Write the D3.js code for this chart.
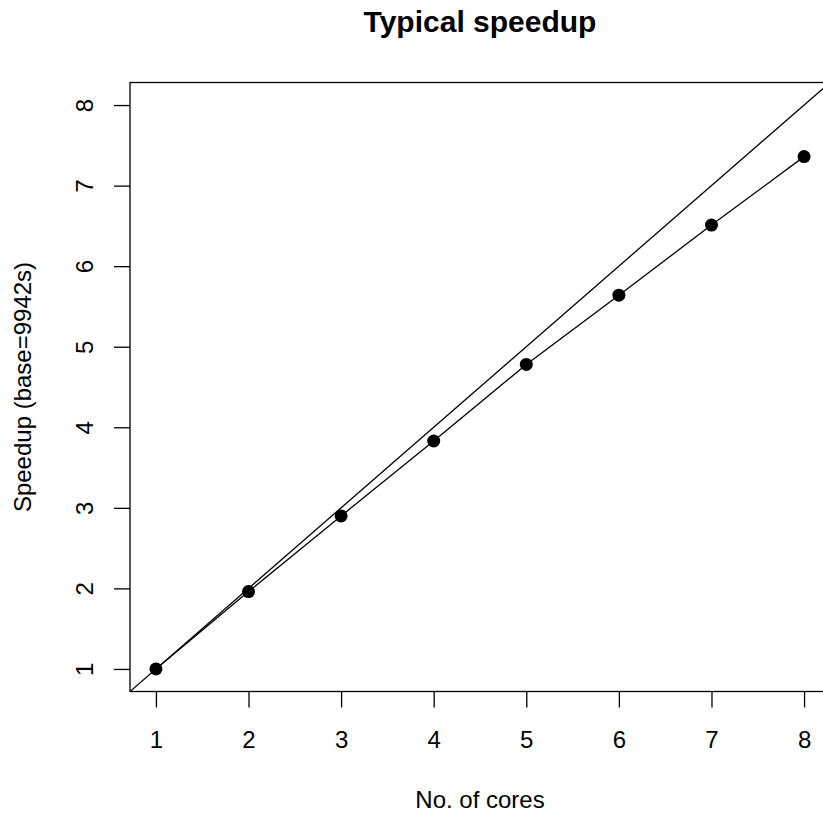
<!DOCTYPE html>
<html lang="en">
<head>
<meta charset="UTF-8">
<title>Typical speedup</title>
<script src="https://d3js.org/d3.v7.min.js"></script>
<style>
    body { margin: 0; background: #fff; }
    svg { display: block; font-family: "Liberation Sans", Arial, sans-serif; }
</style>
</head>
<body>
<script>
    // data
    const cores = [1, 2, 3, 4, 5, 6, 7, 8];
    const speedup = [1, 1.96, 2.90, 3.83, 4.78, 5.64, 6.51, 7.36];
    const xTicks = [1, 2, 3, 4, 5, 6, 7, 8];
    const yTicks = [1, 2, 3, 4, 5, 6, 7, 8];

    const width = 823, height = 816;
    const plot = { left: 130, right: 830, top: 82.5, bottom: 691.5 };

    // R style 4% padding around 1..8
    const pad = 0.04 * 7;
    const x = d3.scaleLinear().domain([1 - pad, 8 + pad]).range([plot.left, plot.right]);
    const y = d3.scaleLinear().domain([1 - pad, 8 + pad]).range([plot.bottom, plot.top]);

    const svg = d3.select("body").append("svg")
        .attr("width", width)
        .attr("height", height);

    svg.append("defs").append("clipPath").attr("id", "clip")
        .append("rect")
        .attr("x", plot.left).attr("y", plot.top)
        .attr("width", plot.right - plot.left)
        .attr("height", plot.bottom - plot.top);

    // title
    svg.append("text")
        .attr("x", (plot.left + plot.right) / 2)
        .attr("y", 32)
        .attr("text-anchor", "middle")
        .style("font-size", "30px")
        .style("font-weight", "bold")
        .text("Typical speedup");

    // box
    svg.append("rect")
        .attr("x", plot.left).attr("y", plot.top)
        .attr("width", plot.right - plot.left)
        .attr("height", plot.bottom - plot.top)
        .attr("fill", "none")
        .attr("stroke", "#000")
        .attr("stroke-width", 1.3);

    // axes
    const xAxis = svg.append("g")
        .attr("transform", `translate(0,${plot.bottom})`)
        .call(d3.axisBottom(x).tickValues(xTicks).tickSize(16).tickPadding(23).tickFormat(d3.format("d")));
    xAxis.select(".domain").remove();
    xAxis.selectAll("line").attr("stroke-width", 1.3);
    xAxis.selectAll("text").style("font-size", "24px").attr("font-family", null).attr("fill", "#000");

    const yAxis = svg.append("g")
        .attr("transform", `translate(${plot.left},0)`)
        .call(d3.axisLeft(y).tickValues(yTicks).tickSize(16).tickFormat(d3.format("d")));
    yAxis.select(".domain").remove();
    yAxis.selectAll("line").attr("stroke-width", 1.3);
    yAxis.selectAll("text")
        .attr("x", null).attr("dy", null)
        .attr("text-anchor", "middle")
        .attr("transform", "translate(-37,0) rotate(-90)")
        .style("font-size", "24px").attr("font-family", null).attr("fill", "#000");

    // axis titles
    svg.append("text")
        .attr("x", (plot.left + plot.right) / 2)
        .attr("y", 808)
        .attr("text-anchor", "middle")
        .style("font-size", "24px")
        .text("No. of cores");

    svg.append("text")
        .attr("transform", `translate(31,${(plot.top + plot.bottom) / 2}) rotate(-90)`)
        .attr("text-anchor", "middle")
        .style("font-size", "24px")
        .text("Speedup (base=9942s)");

    const g = svg.append("g").attr("clip-path", "url(#clip)");

    // ideal line y = x
    g.append("line")
        .attr("x1", x(0)).attr("y1", y(0))
        .attr("x2", x(9)).attr("y2", y(9))
        .attr("stroke", "#000")
        .attr("stroke-width", 1.3);

    const pts = cores.map((c, i) => [c, speedup[i]]);

    g.append("path")
        .datum(pts)
        .attr("fill", "none")
        .attr("stroke", "#000")
        .attr("stroke-width", 1.3)
        .attr("d", d3.line().x(d => x(d[0])).y(d => y(d[1])));

    g.selectAll("circle")
        .data(pts)
        .join("circle")
        .attr("cx", d => x(d[0]))
        .attr("cy", d => y(d[1]))
        .attr("r", 6.5)
        .attr("fill", "#000");
</script>
</body>
</html>
